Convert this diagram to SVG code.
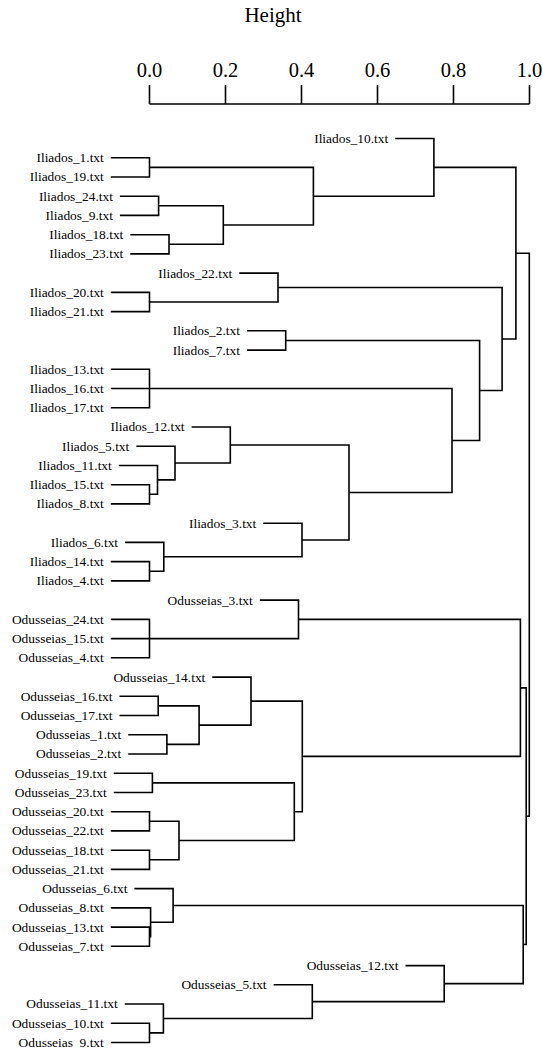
<svg xmlns="http://www.w3.org/2000/svg" width="543" height="1048" viewBox="0 0 543 1048">
<style>
.ln{fill:none;stroke:#000;stroke-width:1.6;stroke-linejoin:miter}
.lb{font-family:"Liberation Serif","Times New Roman",serif;font-size:13.4px;fill:#000;text-anchor:end}
.ax{font-family:"Liberation Serif","Times New Roman",serif;font-size:20.5px;fill:#000;text-anchor:middle}
</style>
<rect width="543" height="1048" fill="#fff"/>
<g id="axis">
<text class="ax" x="273" y="22" style="font-size:21px">Height</text>
<path class="ln" d="M149.5 104 H529.5 M149.5 85 V104 M225.5 85 V104 M301.5 85 V104 M377.5 85 V104 M453.5 85 V104 M529.5 85 V104"/>
<text class="ax" x="149.5" y="77">0.0</text>
<text class="ax" x="225.5" y="77">0.2</text>
<text class="ax" x="301.5" y="77">0.4</text>
<text class="ax" x="377.5" y="77">0.6</text>
<text class="ax" x="453.5" y="77">0.8</text>
<text class="ax" x="529.5" y="77">1.0</text>
</g>
<g id="leaves">
<g id="n-Iliados_10"><text class="lb" x="388.2" y="142.9">Iliados_10.txt</text></g>
<g id="n-Iliados_1"><text class="lb" x="103.8" y="162.1">Iliados_1.txt</text></g>
<g id="n-Iliados_19"><text class="lb" x="103.8" y="181.4">Iliados_19.txt</text></g>
<g id="n-Iliados_24"><text class="lb" x="112.9" y="200.6">Iliados_24.txt</text></g>
<g id="n-Iliados_9"><text class="lb" x="112.9" y="219.8">Iliados_9.txt</text></g>
<g id="n-Iliados_18"><text class="lb" x="123.3" y="239.1">Iliados_18.txt</text></g>
<g id="n-Iliados_23"><text class="lb" x="123.3" y="258.3">Iliados_23.txt</text></g>
<g id="n-Iliados_22"><text class="lb" x="232.3" y="277.5">Iliados_22.txt</text></g>
<g id="n-Iliados_20"><text class="lb" x="103.8" y="296.8">Iliados_20.txt</text></g>
<g id="n-Iliados_21"><text class="lb" x="103.8" y="316.0">Iliados_21.txt</text></g>
<g id="n-Iliados_2"><text class="lb" x="240.0" y="335.2">Iliados_2.txt</text></g>
<g id="n-Iliados_7"><text class="lb" x="240.0" y="354.5">Iliados_7.txt</text></g>
<g id="n-Iliados_13"><text class="lb" x="103.8" y="373.7">Iliados_13.txt</text></g>
<g id="n-Iliados_16"><text class="lb" x="103.8" y="392.9">Iliados_16.txt</text></g>
<g id="n-Iliados_17"><text class="lb" x="103.8" y="412.2">Iliados_17.txt</text></g>
<g id="n-Iliados_12"><text class="lb" x="184.6" y="431.4">Iliados_12.txt</text></g>
<g id="n-Iliados_5"><text class="lb" x="129.3" y="450.6">Iliados_5.txt</text></g>
<g id="n-Iliados_11"><text class="lb" x="111.8" y="469.9">Iliados_11.txt</text></g>
<g id="n-Iliados_15"><text class="lb" x="103.8" y="489.1">Iliados_15.txt</text></g>
<g id="n-Iliados_8"><text class="lb" x="103.8" y="508.3">Iliados_8.txt</text></g>
<g id="n-Iliados_3"><text class="lb" x="256.3" y="527.6">Iliados_3.txt</text></g>
<g id="n-Iliados_6"><text class="lb" x="118.1" y="546.8">Iliados_6.txt</text></g>
<g id="n-Iliados_14"><text class="lb" x="103.8" y="566.0">Iliados_14.txt</text></g>
<g id="n-Iliados_4"><text class="lb" x="103.8" y="585.3">Iliados_4.txt</text></g>
<g id="n-Odusseias_3"><text class="lb" x="252.8" y="604.5">Odusseias_3.txt</text></g>
<g id="n-Odusseias_24"><text class="lb" x="103.8" y="623.8">Odusseias_24.txt</text></g>
<g id="n-Odusseias_15"><text class="lb" x="103.8" y="643.0">Odusseias_15.txt</text></g>
<g id="n-Odusseias_4"><text class="lb" x="103.8" y="662.2">Odusseias_4.txt</text></g>
<g id="n-Odusseias_14"><text class="lb" x="205.3" y="681.5">Odusseias_14.txt</text></g>
<g id="n-Odusseias_16"><text class="lb" x="112.5" y="700.7">Odusseias_16.txt</text></g>
<g id="n-Odusseias_17"><text class="lb" x="112.5" y="719.9">Odusseias_17.txt</text></g>
<g id="n-Odusseias_1"><text class="lb" x="121.2" y="739.2">Odusseias_1.txt</text></g>
<g id="n-Odusseias_2"><text class="lb" x="121.2" y="758.4">Odusseias_2.txt</text></g>
<g id="n-Odusseias_19"><text class="lb" x="106.7" y="777.6">Odusseias_19.txt</text></g>
<g id="n-Odusseias_23"><text class="lb" x="106.7" y="796.9">Odusseias_23.txt</text></g>
<g id="n-Odusseias_20"><text class="lb" x="103.8" y="816.1">Odusseias_20.txt</text></g>
<g id="n-Odusseias_22"><text class="lb" x="103.8" y="835.3">Odusseias_22.txt</text></g>
<g id="n-Odusseias_18"><text class="lb" x="103.8" y="854.6">Odusseias_18.txt</text></g>
<g id="n-Odusseias_21"><text class="lb" x="103.8" y="873.8">Odusseias_21.txt</text></g>
<g id="n-Odusseias_6"><text class="lb" x="127.4" y="893.0">Odusseias_6.txt</text></g>
<g id="n-Odusseias_8"><text class="lb" x="103.8" y="912.3">Odusseias_8.txt</text></g>
<g id="n-Odusseias_13"><text class="lb" x="103.8" y="931.5">Odusseias_13.txt</text></g>
<g id="n-Odusseias_7"><text class="lb" x="103.8" y="950.7">Odusseias_7.txt</text></g>
<g id="n-Odusseias_12"><text class="lb" x="398.5" y="970.0">Odusseias_12.txt</text></g>
<g id="n-Odusseias_5"><text class="lb" x="266.6" y="989.2">Odusseias_5.txt</text></g>
<g id="n-Odusseias_11"><text class="lb" x="117.7" y="1008.4">Odusseias_11.txt</text></g>
<g id="n-Odusseias_10"><text class="lb" x="103.8" y="1027.7">Odusseias_10.txt</text></g>
<g id="n-Odusseias_9"><text class="lb" x="103.8" y="1046.9">Odusseias_9.txt</text></g>
</g>
<g id="connectors">
<path class="ln" d="M110.8 157.7 H149.5 V177.0 H110.8"/>
<path class="ln" d="M119.9 196.2 H158.6 V215.4 H119.9"/>
<path class="ln" d="M130.3 234.7 H169.0 V253.9 H130.3"/>
<path class="ln" d="M158.6 205.8 H223.3 V244.3 H169.0"/>
<path class="ln" d="M149.5 167.35 H313.4 V225.05 H223.3"/>
<path class="ln" d="M395.2 138.5 H433.9 V196.2 H313.4"/>
<path class="ln" d="M110.8 292.4 H149.5 V311.6 H110.8"/>
<path class="ln" d="M239.3 273.1 H278.0 V302.0 H149.5"/>
<path class="ln" d="M247.0 330.8 H285.7 V350.1 H247.0"/>
<path class="ln" d="M110.8 369.3 H149.5 V407.8 H110.8 M110.8 388.5 H149.5"/>
<path class="ln" d="M110.8 484.7 H149.5 V503.9 H110.8"/>
<path class="ln" d="M118.8 465.5 H157.5 V494.3 H149.5"/>
<path class="ln" d="M136.3 446.2 H175.0 V479.9 H157.5"/>
<path class="ln" d="M191.6 427.0 H230.3 V463.05 H175.0"/>
<path class="ln" d="M110.8 561.6 H149.5 V580.9 H110.8"/>
<path class="ln" d="M125.1 542.4 H163.8 V571.25 H149.5"/>
<path class="ln" d="M263.3 523.2 H302.0 V556.8 H163.8"/>
<path class="ln" d="M230.3 445.0 H349.0 V540.0 H302.0"/>
<path class="ln" d="M149.5 388.5 H452.0 V492.5 H349.0"/>
<path class="ln" d="M285.7 340.45 H479.6 V440.5 H452.0"/>
<path class="ln" d="M278.0 287.55 H502.1 V390.5 H479.6"/>
<path class="ln" d="M433.9 167.35 H515.9 V339.0 H502.1"/>
<path class="ln" d="M515.9 253.2 H529.3 V816.2 H526.2"/>
<path class="ln" d="M110.8 619.4 H149.5 V657.8 H110.8 M110.8 638.6 H149.5"/>
<path class="ln" d="M259.8 600.1 H298.5 V638.6 H149.5"/>
<path class="ln" d="M119.5 696.3 H158.2 V715.5 H119.5"/>
<path class="ln" d="M128.2 734.8 H166.9 V754.0 H128.2"/>
<path class="ln" d="M158.2 705.9 H199.1 V744.4 H166.9"/>
<path class="ln" d="M212.3 677.1 H251.0 V725.15 H199.1"/>
<path class="ln" d="M113.7 773.2 H152.4 V792.5 H113.7"/>
<path class="ln" d="M110.8 811.7 H149.5 V830.9 H110.8"/>
<path class="ln" d="M110.8 850.2 H149.5 V869.4 H110.8"/>
<path class="ln" d="M149.5 821.3 H179.0 V859.8 H149.5"/>
<path class="ln" d="M152.4 782.85 H294.3 V840.55 H179.0"/>
<path class="ln" d="M251.0 701.1 H302.3 V811.7 H294.3"/>
<path class="ln" d="M298.5 619.35 H520.4 V756.4 H302.3"/>
<path class="ln" d="M110.8 927.1 H149.5 V946.3 H110.8"/>
<path class="ln" d="M110.8 907.9 H150.6 V936.7 H149.5"/>
<path class="ln" d="M134.4 888.6 H173.1 V922.3 H150.6"/>
<path class="ln" d="M110.8 1023.3 H149.5 V1042.5 H110.8"/>
<path class="ln" d="M124.7 1004.0 H163.4 V1032.9 H149.5"/>
<path class="ln" d="M273.6 984.8 H312.3 V1018.45 H163.4"/>
<path class="ln" d="M405.5 965.6 H444.2 V1001.6 H312.3"/>
<path class="ln" d="M173.1 905.45 H523.2 V983.6 H444.2"/>
<path class="ln" d="M520.4 687.9 H526.2 V944.5 H523.2"/>
</g>
</svg>
